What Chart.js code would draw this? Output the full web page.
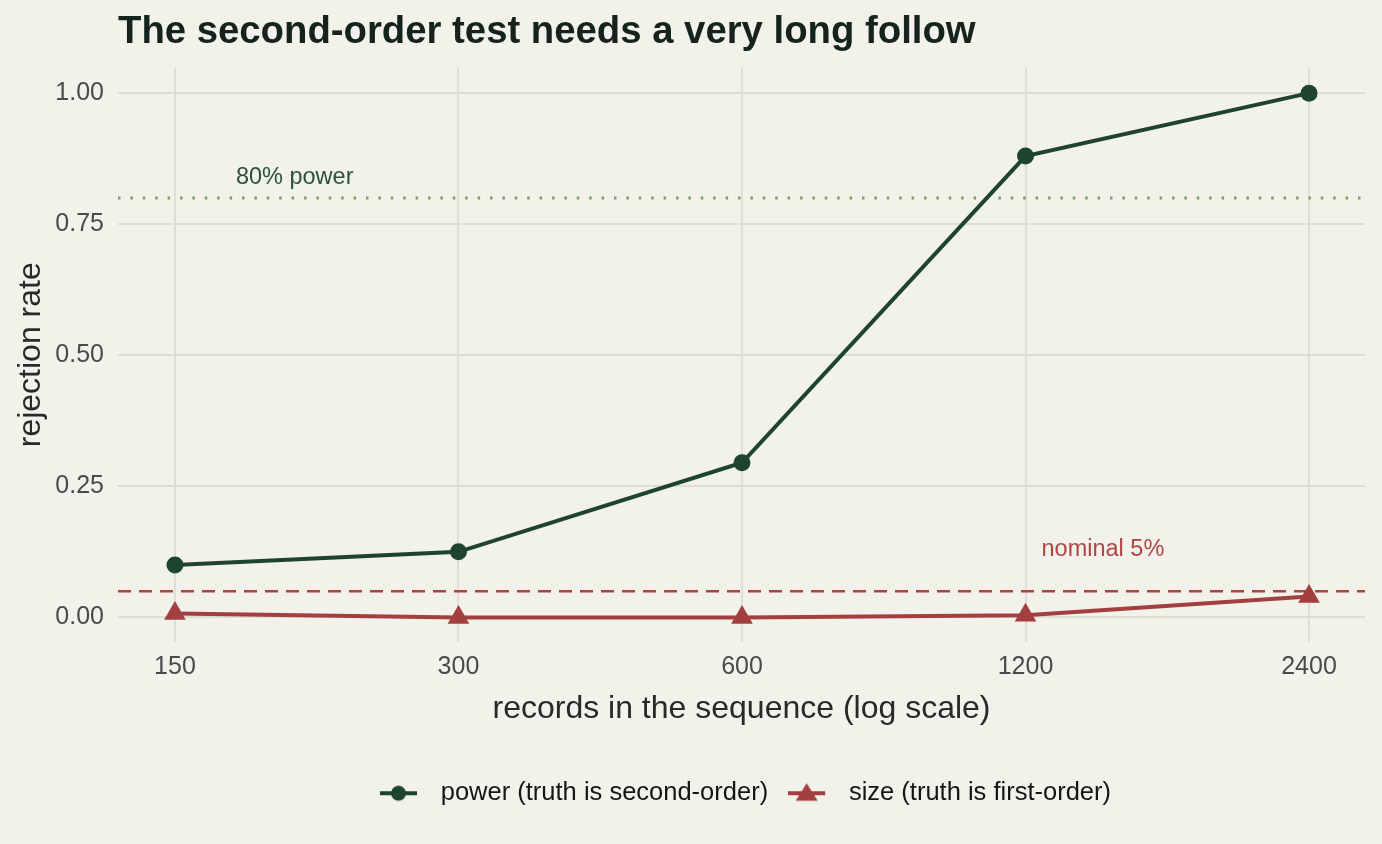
<!DOCTYPE html>
<html>
<head>
<meta charset="utf-8">
<script src="https://cdn.jsdelivr.net/npm/chart.js@4.4.1/dist/chart.umd.min.js"></script>
<style>
  html, body { margin: 0; padding: 0; background: #f2f1ea; }
  #wrap { width: 1382px; height: 844px; }
</style>
</head>
<body>
<div id="wrap"><canvas id="chart"></canvas></div>
<script>
// Data
const records = [150, 300, 600, 1200, 2400];
const powerRate = [0.10, 0.125, 0.295, 0.88, 1.00];
const sizeRate = [0.0075, 0.0, 0.0, 0.004, 0.04];
const yTicks = [0, 0.25, 0.5, 0.75, 1.0];
const powerLine = 0.80;
const nominalLine = 0.05;
const powerNote = { x: 201, y: 0.84, text: '80% power' };
const nominalNote = { x: 1450, y: 0.13, text: 'nominal 5%' };

const GREEN = '#1e4430';
const RED = '#a43f3f';
const FONT = '"Liberation Sans", Arial, sans-serif';

// legend swatch: a short line with the marker on it
function legendIcon(color, shape) {
    const c = document.createElement('canvas');
    c.width = 48; c.height = 22;
    const g = c.getContext('2d');
    g.strokeStyle = color;
    g.lineWidth = 4;
    g.beginPath(); g.moveTo(0, 11); g.lineTo(37, 11); g.stroke();
    g.fillStyle = color;
    g.beginPath();
    if (shape === 'circle') {
        g.arc(18.5, 11, 7.5, 0, Math.PI * 2);
    } else {
        g.moveTo(18.5, 1); g.lineTo(29.5, 18.5); g.lineTo(7.5, 18.5); g.closePath();
    }
    g.fill();
    return c;
}

// reference lines, notes and the title, all placed through the scales
const extras = {
    id: 'extras',
    afterLayout(chart) {
        // centre the legend under the panel, like ggplot does
        chart.legend.left = chart.chartArea.left + 4;
        chart.legend.right = chart.chartArea.right + 4;
    },
    beforeDatasetsDraw(chart) {
        const { ctx, chartArea, scales: { x, y } } = chart;
        ctx.save();
        ctx.lineWidth = 3;
        ctx.strokeStyle = '#7f9d62';
        ctx.setLineDash([2.5, 9.9]);
        let py = y.getPixelForValue(powerLine);
        ctx.beginPath(); ctx.moveTo(chartArea.left, py); ctx.lineTo(chartArea.right, py); ctx.stroke();
        ctx.lineWidth = 2.5;
        ctx.strokeStyle = '#a94545';
        ctx.setLineDash([13, 8]);
        py = y.getPixelForValue(nominalLine);
        ctx.beginPath(); ctx.moveTo(chartArea.left, py); ctx.lineTo(chartArea.right, py); ctx.stroke();
        ctx.setLineDash([]);
        ctx.font = '23.5px ' + FONT;
        ctx.textAlign = 'center';
        ctx.textBaseline = 'middle';
        ctx.fillStyle = '#2b5236';
        ctx.fillText(powerNote.text, x.getPixelForValue(powerNote.x), y.getPixelForValue(powerNote.y));
        ctx.fillStyle = '#b04545';
        ctx.fillText(nominalNote.text, x.getPixelForValue(nominalNote.x), y.getPixelForValue(nominalNote.y));
        ctx.restore();
    },
    afterDraw(chart) {
        const { ctx, chartArea } = chart;
        ctx.save();
        ctx.font = 'bold 38.3px ' + FONT;
        ctx.fillStyle = '#15231a';
        ctx.textAlign = 'left';
        ctx.textBaseline = 'middle';
        ctx.fillText('The second-order test needs a very long follow', chartArea.left, 32);
        ctx.restore();
    }
};

new Chart(document.getElementById('chart'), {
    type: 'line',
    data: {
        datasets: [{
            label: 'power (truth is second-order)',
            data: records.map((r, i) => ({ x: r, y: powerRate[i] })),
            borderColor: GREEN,
            backgroundColor: GREEN,
            borderWidth: 4,
            pointStyle: 'circle',
            pointRadius: 8.5,
            pointBorderWidth: 0,
            tension: 0
        }, {
            label: 'size (truth is first-order)',
            data: records.map((r, i) => ({ x: r, y: sizeRate[i] })),
            borderColor: RED,
            backgroundColor: RED,
            borderWidth: 4,
            pointStyle: 'triangle',
            pointRadius: 12.5,
            pointBorderWidth: 0,
            tension: 0
        }]
    },
    options: {
        responsive: true,
        maintainAspectRatio: false,
        animation: false,
        layout: { padding: { top: 68, left: 11, right: 17, bottom: 28 } },
        scales: {
            x: {
                type: 'logarithmic',
                min: 130.5,
                max: 2752,
                afterBuildTicks: s => { s.ticks = records.map(v => ({ value: v })); },
                afterFit: s => { s.height = 119; },
                border: { display: false },
                grid: { color: '#dfded4', lineWidth: 2, drawTicks: false },
                ticks: {
                    autoSkip: false,
                    maxRotation: 0,
                    padding: 11,
                    color: '#4a4a4a',
                    font: { family: FONT, size: 25 },
                    callback: v => String(v)
                },
                title: {
                    display: true,
                    text: 'records in the sequence (log scale)',
                    color: '#262b28',
                    font: { family: FONT, size: 32 },
                    padding: { top: 0, bottom: 32 }
                }
            },
            y: {
                min: -0.046,
                max: 1.048,
                afterBuildTicks: s => { s.ticks = yTicks.map(v => ({ value: v })); },
                afterFit: s => { s.width = 107; },
                border: { display: false },
                grid: { color: '#dfded4', lineWidth: 2, drawTicks: false },
                ticks: {
                    padding: 14,
                    color: '#4a4a4a',
                    font: { family: FONT, size: 25 },
                    callback: v => v.toFixed(2)
                },
                title: {
                    display: true,
                    text: 'rejection rate',
                    color: '#262b28',
                    font: { family: FONT, size: 32 },
                    padding: { top: 1 }
                }
            }
        },
        plugins: {
            title: { display: false },
            tooltip: { enabled: false },
            legend: {
                position: 'bottom',
                labels: {
                    usePointStyle: true,
                    pointStyleWidth: 48,
                    padding: 20,
                    color: '#161616',
                    font: { family: FONT, size: 25.5 },
                    generateLabels: chart => chart.data.datasets.map((d, i) => ({
                        text: d.label,
                        datasetIndex: i,
                        pointStyle: legendIcon(d.borderColor, d.pointStyle),
                        fontColor: '#161616',
                        lineWidth: 0,
                        hidden: false
                    }))
                }
            }
        }
    },
    plugins: [extras]
});
</script>
</body>
</html>
